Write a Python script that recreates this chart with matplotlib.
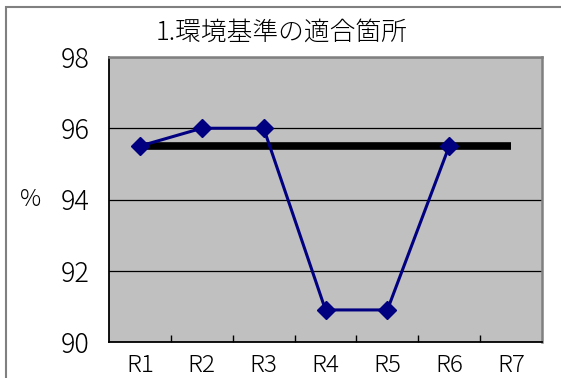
import numpy as np
import matplotlib.pyplot as plt
from matplotlib.patches import Rectangle
from matplotlib.ticker import FixedLocator

plt.rcParams['font.family'] = ['Noto Sans CJK JP', 'DejaVu Sans']
plt.rcParams['font.weight'] = 'light'

categories = ["R1", "R2", "R3", "R4", "R5", "R6", "R7"]
rate = [95.5, 96.0, 96.0, 90.9, 90.9, 95.5]
standard = [95.5, 95.5, 95.5, 95.5, 95.5, 95.5, 95.5]
title = "1.環境基準の適合箇所"

fig = plt.figure(figsize=(5.61, 3.78), dpi=100)
ax = fig.add_axes([109/561, 1-342/378, 433/561, 285/378])
ax.set_facecolor("#c0c0c0")

x = np.arange(len(categories))
ax.plot(x, standard, color="black", lw=5.5, solid_capstyle="butt", zorder=3)
ax.plot(x[:len(rate)], rate, color="#000080", lw=2.2, marker="D",
        markersize=9, zorder=4)

ax.set_xlim(-0.5, len(categories) - 0.5)
ax.set_ylim(90, 98)
ax.set_yticks([90, 92, 94, 96, 98])
ax.set_xticks(x)
ax.set_xticklabels(categories)
ax.xaxis.set_minor_locator(FixedLocator(np.arange(0.5, len(categories) - 0.5, 1)))
ax.tick_params(axis="x", which="major", length=0, labelsize=17.5, pad=8)
ax.tick_params(axis="x", which="minor", length=5, direction="in", width=1)
ax.tick_params(axis="y", length=0, labelsize=19.5, pad=14)
ax.grid(axis="y", color="black", lw=0.9)
ax.set_axisbelow(True)

for s in ["left", "bottom"]:
    ax.spines[s].set_color("black")
    ax.spines[s].set_linewidth(1.3)
for s in ["top", "right"]:
    ax.spines[s].set_color("#808080")
    ax.spines[s].set_linewidth(1.8)

ax.set_ylabel("%", fontsize=17, fontweight="light", rotation=0, va="center")
ax.yaxis.set_label_coords(-0.18, 0.5)
fig.text(282/561, 1-32/378, title, fontsize=18.5, ha="center", va="center")

fig.patches.append(Rectangle((6/561, -0.1), 1.2, 1-7/378+0.1, transform=fig.transFigure,
                             fill=False, edgecolor="#808080", lw=1.5))

fig.savefig("out.png", dpi=100)
